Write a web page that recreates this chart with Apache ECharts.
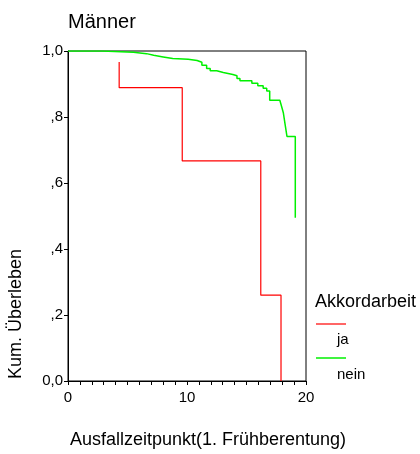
<!DOCTYPE html>
<html>
<head>
<meta charset="utf-8">
<script src="https://cdn.jsdelivr.net/npm/echarts@6/dist/echarts.min.js"></script>
<style>
  html, body { margin: 0; padding: 0; background: #fff; }
  #chart { width: 420px; height: 454px; }
</style>
</head>
<body>
<div id="chart"></div>
<script>
// Kaplan-Meier Schätzung, Werte nach dem Sprung an jedem Zeitpunkt
const groupNames = ['ja', 'nein']

const jaTimes = [4.3, 4.3, 9.6, 16.2, 17.9]
const jaSurv = [0.967, 0.889, 0.667, 0.26, 0]

const neinTimes = [0, 2.85, 5.5, 6.6, 7.2, 8.0, 8.8, 10.1, 10.85, 11.25, 11.65, 11.95, 12.5, 13.05,
  13.85, 14.2, 14.45, 15.45, 15.95, 16.4, 16.7, 16.95, 17.8, 17.95, 18.1, 18.25, 18.4, 19.1]
const neinSurv = [1.0, 0.996, 0.992, 0.987, 0.982, 0.977, 0.975, 0.971, 0.966, 0.957, 0.947, 0.94,
  0.935, 0.929, 0.925, 0.917, 0.91, 0.902, 0.895, 0.887, 0.879, 0.851, 0.846, 0.832, 0.812,
  0.776, 0.741, 0.495]

const xTickLabels = { 0: '0', 10: '10', 20: '20' }
const yTickLabels = { '0.0': '0,0', '0.2': ',2', '0.4': ',4', '0.6': ',6', '0.8': ',8', '1.0': '1,0' }

const colors = ['#ff0000', '#00f000']
const font = 'Liberation Sans, Arial, sans-serif'

const chart = echarts.init(document.getElementById('chart'))

function pairs(xs, ys) {
  return xs.map((x, i) => [x, ys[i]])
}

chart.setOption({
  animation: false,
  title: {
    text: 'Männer',
    left: 63,
    top: 7,
    textStyle: { fontFamily: font, fontSize: 20, fontWeight: 'normal', color: '#000' },
  },
  grid: {
    left: 68,
    right: 114,
    top: 51,
    bottom: 71,
    show: true,
    borderColor: '#000',
    borderWidth: 1,
  },
  xAxis: {
    type: 'value',
    min: 0,
    max: 20,
    interval: 1,
    splitLine: { show: false },
    axisLine: { lineStyle: { color: '#000', width: 1 } },
    axisTick: { length: 4, lineStyle: { color: '#000' } },
    axisLabel: {
      color: '#000',
      fontFamily: font,
      fontSize: 15,
      margin: 9,
      formatter: v => xTickLabels[v] ?? '',
    },
    name: 'Ausfallzeitpunkt(1. Frühberentung)',
    nameLocation: 'middle',
    nameGap: 50,
    // Titel sitzt im Original etwas rechts der Achsenmitte
    nameTextStyle: { color: '#000', fontFamily: font, fontSize: 18, padding: [0, 0, 0, 42] },
  },
  yAxis: {
    type: 'value',
    min: 0,
    max: 1,
    interval: 0.2,
    splitLine: { show: false },
    axisLine: { lineStyle: { color: '#000', width: 1 } },
    axisTick: { length: 4, lineStyle: { color: '#000' } },
    axisLabel: {
      color: '#000',
      fontFamily: font,
      fontSize: 15,
      margin: 5,
      formatter: v => yTickLabels[v.toFixed(1)] ?? '',
    },
  },
  graphic: [
    {
      type: 'text',
      left: 7,
      top: 249,
      rotation: Math.PI / 2,
      style: { text: 'Kum. Überleben', font: '18px ' + font, fill: '#000' },
    },
    {
      type: 'text',
      left: 315,
      top: 293,
      style: { text: 'Akkordarbeit', font: '18px ' + font, fill: '#000' },
    },
    { type: 'line', shape: { x1: 316, y1: 324, x2: 346, y2: 324 }, style: { stroke: colors[0], lineWidth: 1.2 } },
    { type: 'text', left: 337, top: 332, style: { text: groupNames[0], font: '15px ' + font, fill: '#000' } },
    { type: 'line', shape: { x1: 316, y1: 358, x2: 346, y2: 358 }, style: { stroke: colors[1], lineWidth: 1.5 } },
    { type: 'text', left: 337, top: 367, style: { text: groupNames[1], font: '15px ' + font, fill: '#000' } },
  ],
  series: [
    {
      name: groupNames[0],
      type: 'line',
      step: 'end',
      showSymbol: false,
      data: pairs(jaTimes, jaSurv),
      lineStyle: { color: colors[0], width: 1.2 },
      z: 3,
    },
    {
      name: groupNames[1],
      type: 'line',
      step: 'end',
      showSymbol: false,
      data: pairs(neinTimes, neinSurv),
      lineStyle: { color: colors[1], width: 1.5 },
      z: 4,
    },
  ],
})
</script>
</body>
</html>
